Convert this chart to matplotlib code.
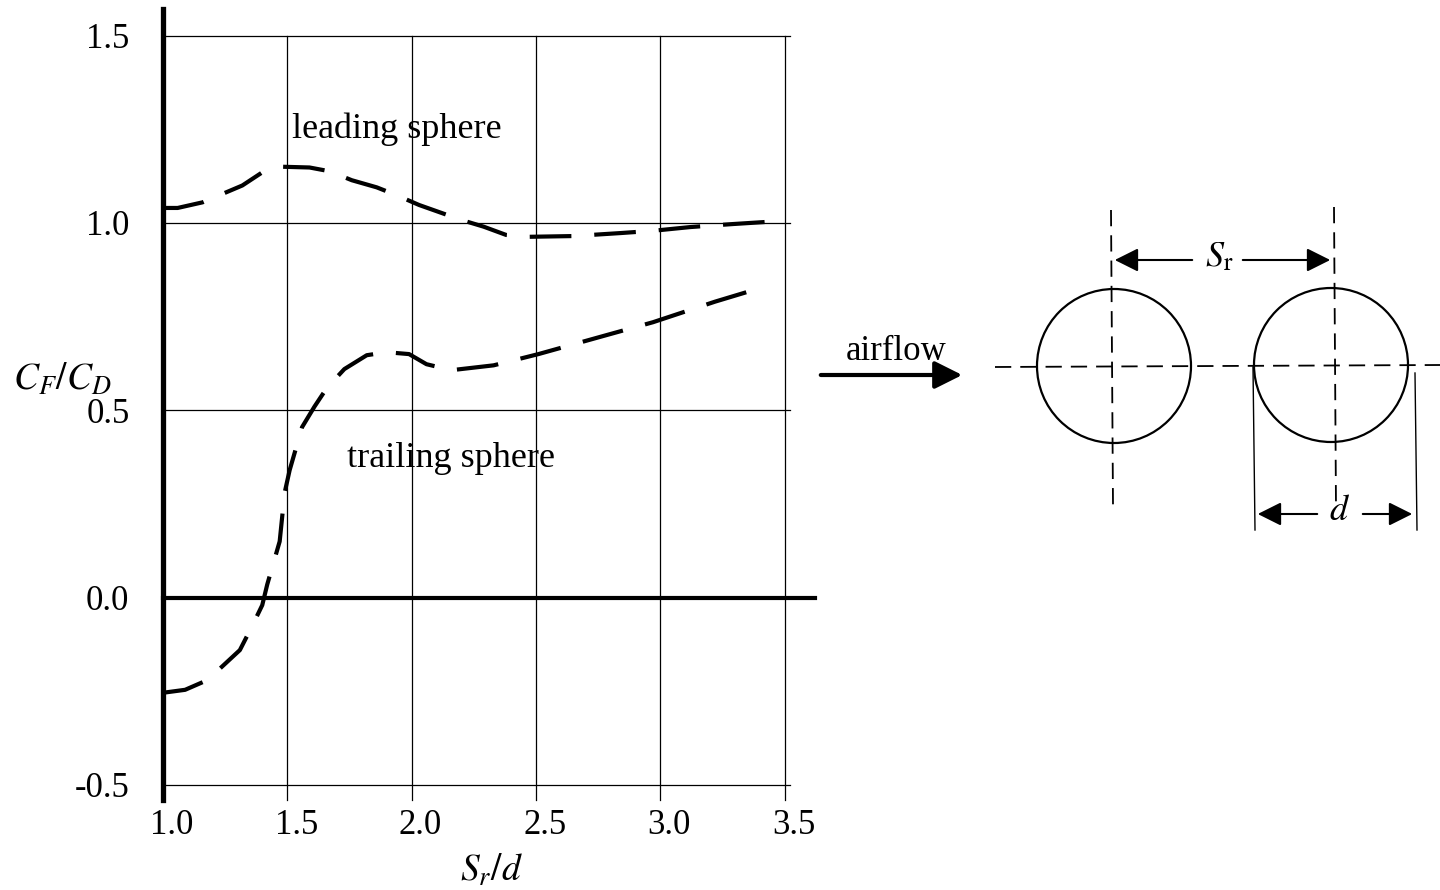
import matplotlib.pyplot as plt
from matplotlib.patches import Circle, FancyArrowPatch
from matplotlib.transforms import ScaledTranslation

plt.rcParams['font.family'] = ['Liberation Serif', 'DejaVu Serif']
plt.rcParams['mathtext.fontset'] = 'stix'

# Data (S_r/d vs C_F/C_D)
lead_x = [1.00, 1.06, 1.16, 1.32, 1.40, 1.48, 1.59, 1.67, 1.76, 1.86, 1.94, 2.03, 2.20,
          2.29, 2.38, 2.47, 2.65, 2.84, 2.97, 3.12, 3.29, 3.48]
lead_y = [1.04, 1.04, 1.055, 1.10, 1.135, 1.15, 1.148, 1.138, 1.114, 1.095, 1.074, 1.048, 1.008,
          0.99, 0.968, 0.963, 0.965, 0.973, 0.979, 0.989, 0.997, 1.005]

trail_x = [1.00, 1.09, 1.18, 1.31, 1.36, 1.40, 1.42, 1.47, 1.49, 1.51, 1.56, 1.61, 1.66, 1.73,
           1.82, 1.90, 1.99, 2.06, 2.16, 2.33, 2.51, 2.78, 2.97, 3.22, 3.40]
trail_y = [-0.254, -0.246, -0.22, -0.14, -0.075, -0.02, 0.035, 0.15, 0.28, 0.34, 0.455, 0.51,
           0.56, 0.61, 0.647, 0.655, 0.65, 0.623, 0.607, 0.62, 0.65, 0.70, 0.735, 0.79, 0.826]

x_ticks = [1.0, 1.5, 2.0, 2.5, 3.0, 3.5]
y_ticks = [-0.5, 0.0, 0.5, 1.0, 1.5]

fig = plt.figure(figsize=(14.4, 8.9), dpi=100)
ax = fig.add_axes([0.113, 0.118, 0.432, 0.842])
ax.set_xlim(1.0, 3.5)
ax.set_ylim(-0.5, 1.5)

# grid lines (slightly overshooting, like the original drawing)
for xv in x_ticks[1:]:
    ax.plot([xv, xv], [-0.54, 1.5], color='black', lw=0.9, clip_on=False)
for yv in y_ticks:
    if yv == 0.0:
        continue
    ax.plot([1.0, 3.52], [yv, yv], color='black', lw=0.9, clip_on=False)
ax.plot([1.0, 3.62], [0, 0], color='black', lw=3, clip_on=False)
ax.plot([1.0, 1.0], [-0.54, 1.57], color='black', lw=3.8, clip_on=False)

ax.plot(lead_x, lead_y, color='black', lw=3, ls=(0, (10, 5.5)), clip_on=False)
ax.plot(trail_x, trail_y, color='black', lw=3, ls=(0, (10, 5.5)), clip_on=False)

for s in ax.spines.values():
    s.set_visible(False)
ax.set_xticks(x_ticks)
ax.set_xticklabels([f'{v:.1f}' for v in x_ticks])
ax.set_yticks(y_ticks)
ax.set_yticklabels([f'{v:.1f}' for v in y_ticks])
ax.tick_params(length=0, labelsize=25)
ax.tick_params(axis='x', pad=17)
ax.tick_params(axis='y', pad=24)
shift = ScaledTranslation(0.09, 0, fig.dpi_scale_trans)
for lab in ax.get_xticklabels():
    lab.set_transform(lab.get_transform() + shift)

ax.text(1.52, 1.25, 'leading sphere', fontsize=26, va='center', ha='left')
ax.text(1.74, 0.37, 'trailing sphere', fontsize=26, va='center', ha='left')
fig.text(0.009, 0.573, r'$C_F/C_D$', fontsize=27, va='center', ha='left')
fig.text(0.341, 0.022, r'$S_r/d$', fontsize=27, va='center', ha='center')

# schematic of the two spheres, drawn in pixel-like units
dg = fig.add_axes([0, 0, 1, 1])
dg.set_xlim(0, 1440)
dg.set_ylim(890, 0)
dg.axis('off')
dash = (0, (9, 5))
dg.add_patch(Circle((1114, 366), 77, fill=False, lw=1.6, color='black'))
dg.add_patch(Circle((1331, 365), 77, fill=False, lw=1.6, color='black'))
dg.plot([995, 1440], [367, 365], color='black', lw=1.3, ls=dash)
dg.plot([1111, 1113], [210, 505], color='black', lw=1.3, ls=dash)
dg.plot([1334, 1336], [207, 508], color='black', lw=1.3, ls=dash)
dg.plot([1253, 1255], [367, 530], color='black', lw=1.0)
dg.plot([1415, 1417], [373, 530], color='black', lw=1.0)

arrow_kw = dict(arrowstyle='-|>', mutation_scale=36, color='black', lw=1.5)
dg.add_patch(FancyArrowPatch((1195, 260), (1112, 260), **arrow_kw))
dg.add_patch(FancyArrowPatch((1240, 260), (1333, 260), **arrow_kw))
dg.text(1219, 258, r'$S_\mathrm{r}$', fontsize=26, ha='center', va='center')
dg.add_patch(FancyArrowPatch((1320, 514), (1255, 514), **arrow_kw))
dg.add_patch(FancyArrowPatch((1360, 514), (1415, 514), **arrow_kw))
dg.text(1340, 512, r'$d$', fontsize=26, ha='center', va='center')

dg.add_patch(FancyArrowPatch((818, 375), (965, 375), arrowstyle='-|>', mutation_scale=42,
                             color='black', lw=3))
dg.text(896, 352, 'airflow', fontsize=25, ha='center', va='center')

fig.savefig('out.png', dpi=100)
